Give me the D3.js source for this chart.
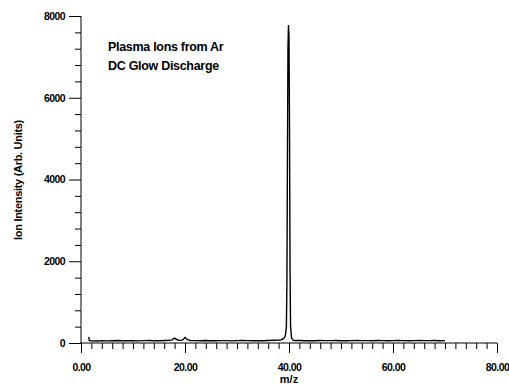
<!DOCTYPE html>
<html><head><meta charset="utf-8">
<script src="https://cdn.jsdelivr.net/npm/d3@7"></script>
<style>
body{margin:0;background:#fff;}
svg text{font-family:"Liberation Sans",Arial,sans-serif;font-weight:bold;fill:#000;}
</style></head>
<body><svg id="c" width="509" height="385"></svg>
<script>
const mz = [1.5,1.6,2,3,4,5,6,7,8,9,10,11,12,13,14,15,16,17,17.5,18,18.5,19,19.5,20,20.5,21,22,23,24,25,26,27,28,29,30,31,32,33,34,35,36,37,38,38.5,39,39.3,39.5,39.6,39.7,39.8,39.9,40.0,40.1,40.2,40.3,40.5,40.8,41,42,43,44,45,46,47,48,49,50,51,52,53,54,55,56,57,58,59,60,61,62,63,64,65,66,67,68,69,70];
const intensity = [150,60,55,50,58,52,55,60,54,58,56,52,58,60,56,55,62,66,75,120,80,65,70,135,80,62,58,55,60,56,54,58,57,52,58,60,57,55,58,56,62,66,70,80,110,180,400,1500,4500,7200,7780,7500,5200,1800,400,120,70,62,60,55,58,54,60,57,58,60,56,54,58,60,57,58,54,60,58,56,58,60,57,55,58,60,57,58,60,56,58];
const xMajor = [0,20,40,60,80];
const xLabels = ["0.00","20.00","40.00","60.00","80.00"];
const yMajor = [0,2000,4000,6000,8000];
const yLabels = ["0","2000","4000","6000","8000"];
const title = ["Plasma Ions from Ar","DC Glow Discharge"];

const svg = d3.select("#c");
const x = d3.scaleLinear().domain([0,80]).range([81,497]);
const y = d3.scaleLinear().domain([0,8000]).range([343,16]);

const xMinor = d3.range(0,81,2).filter(v=>v%20!==0);
const yMinor = d3.range(0,8001,400).filter(v=>v%2000!==0);

function styleAxis(g){g.select(".domain").remove();g.selectAll("line").attr("stroke","#000").attr("stroke-width",1);}

// x axis
svg.append("g").attr("transform","translate(0,343)")
 .call(d3.axisBottom(x).tickValues(xMinor).tickSize(6).tickFormat(""))
 .call(styleAxis);
svg.append("g").attr("transform","translate(0,343)")
 .call(d3.axisBottom(x).tickValues(xMajor).tickSize(10).tickPadding(11).tickFormat((d,i)=>xLabels[i]))
 .call(styleAxis)
 .call(g=>g.selectAll("text").attr("font-size","10.5px").style("letter-spacing","-0.6px"));
svg.append("line").attr("x1",x(0)).attr("x2",x(80)).attr("y1",343).attr("y2",343).attr("stroke","#000");

// y axis
svg.append("g").attr("transform","translate(81,0)")
 .call(d3.axisLeft(y).tickValues(yMinor).tickSize(6).tickFormat(""))
 .call(styleAxis);
svg.append("g").attr("transform","translate(81,0)")
 .call(d3.axisLeft(y).tickValues(yMajor).tickSize(12).tickPadding(4).tickFormat((d,i)=>yLabels[i]))
 .call(styleAxis)
 .call(g=>g.selectAll("text").attr("font-size","10.5px").style("letter-spacing","-0.6px"));
svg.append("line").attr("x1",81).attr("x2",81).attr("y1",y(8000)).attr("y2",343).attr("stroke","#000");

// data
const line = d3.line().x((d,i)=>x(mz[i])).y(d=>y(d));
svg.append("path").datum(intensity).attr("d",line).attr("fill","none").attr("stroke","#000").attr("stroke-width",1.4);

// labels
svg.append("text").attr("x",x(40)).attr("y",383).attr("text-anchor","middle").attr("font-size","11px").text("m/z");
svg.append("text").attr("transform","translate(22,180) rotate(-90)").attr("text-anchor","middle").attr("font-size","11px").style("letter-spacing","-0.3px").text("Ion Intensity (Arb. Units)");
svg.selectAll(".ttl").data(title).enter().append("text").attr("x",108).attr("y",(d,i)=>51+i*19).attr("font-size","12.5px").style("letter-spacing","-0.3px").text(d=>d);
</script></body></html>
